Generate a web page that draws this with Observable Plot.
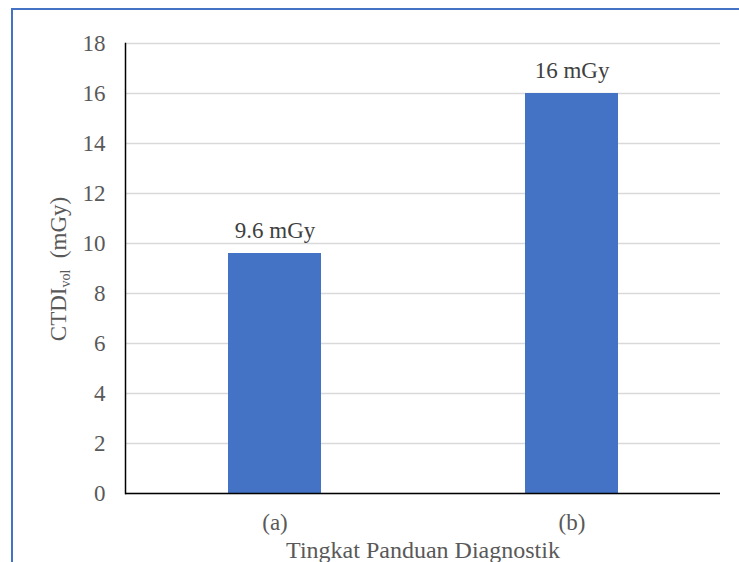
<!DOCTYPE html>
<html>
<head>
<meta charset="utf-8">
<script src="https://cdn.jsdelivr.net/npm/d3@7"></script>
<script src="https://cdn.jsdelivr.net/npm/@observablehq/plot@0.6"></script>
<style>
  html, body { margin: 0; padding: 0; background: #fff; overflow: hidden; }
  #wrap { position: relative; width: 739px; height: 562px; overflow: hidden; }
  #border { position: absolute; left: 11px; top: 8px; width: 800px; height: 700px; border: 2px solid #4472C4; box-sizing: border-box; pointer-events: none; }
  #chart { position: absolute; left: 0; top: 0; }
  #chart svg, #chart svg text { font-family: "Liberation Serif", "Times New Roman", serif !important; }
</style>
</head>
<body>
<div id="wrap"><div id="chart"></div><div id="border"></div></div>
<script>
const categories = ["(a)", "(b)"];
const values = [9.6, 16];
const valueLabels = ["9.6 mGy", "16 mGy"];
const yTicks = [0, 2, 4, 6, 8, 10, 12, 14, 16, 18];
const xTitle = "Tingkat Panduan Diagnostik";
const yTitleMain = "CTDI";
const yTitleSub = "vol";
const yTitleUnit = " (mGy)";

const data = categories.map((c, i) => ({cat: c, v: values[i], label: valueLabels[i]}));
const font = "Liberation Serif";

const plot = Plot.plot({
  width: 739,
  height: 562,
  marginLeft: 125,
  marginRight: 19,
  marginTop: 43,
  marginBottom: 69,
  style: {fontFamily: font, background: "transparent"},
  x: {domain: categories, paddingInner: 0.687, paddingOuter: 0.3435, align: 0.5},
  y: {domain: [0, 18], ticks: yTicks},
  marks: [
    Plot.gridY(yTicks, {stroke: "#d9d9d9", strokeOpacity: 1, strokeWidth: 1.5}),
    Plot.barY(data, {x: "cat", y: "v", fill: "#4472C4"}),
    Plot.frame({anchor: "left", stroke: "#000", strokeWidth: 1.5}),
    Plot.ruleY([0], {stroke: "#000", strokeWidth: 1.5}),
    Plot.axisY(yTicks, {tickSize: 0, tickPadding: 20, label: null, fontSize: 23, fontFamily: font, fill: "#595959"}),
    Plot.axisX({tickSize: 0, tickPadding: 20, label: null, fontSize: 23, fontFamily: font, fill: "#595959"}),
    Plot.text(data, {x: "cat", y: "v", text: "label", dy: -23, lineAnchor: "middle", fontSize: 23, fontFamily: font, fill: "#404040"}),
    Plot.text([xTitle], {frameAnchor: "bottom", dy: 57, lineAnchor: "middle", fontSize: 24, fontFamily: font, fill: "#595959"})
  ]
});
document.getElementById("chart").appendChild(plot);

const ys = plot.scale("y").range;
const cy = (ys[0] + ys[1]) / 2;
const t = d3.select(plot).append("text")
  .attr("transform", `translate(66,${cy + 1}) rotate(-90)`)
  .attr("text-anchor", "middle")
  .attr("font-family", font)
  .attr("font-size", 23)
  .attr("fill", "#595959");
t.append("tspan").text(yTitleMain);
t.append("tspan").attr("font-size", 14).attr("dy", 4).text(yTitleSub);
t.append("tspan").attr("dy", -4).text("\u00a0" + yTitleUnit);
</script>
</body>
</html>
